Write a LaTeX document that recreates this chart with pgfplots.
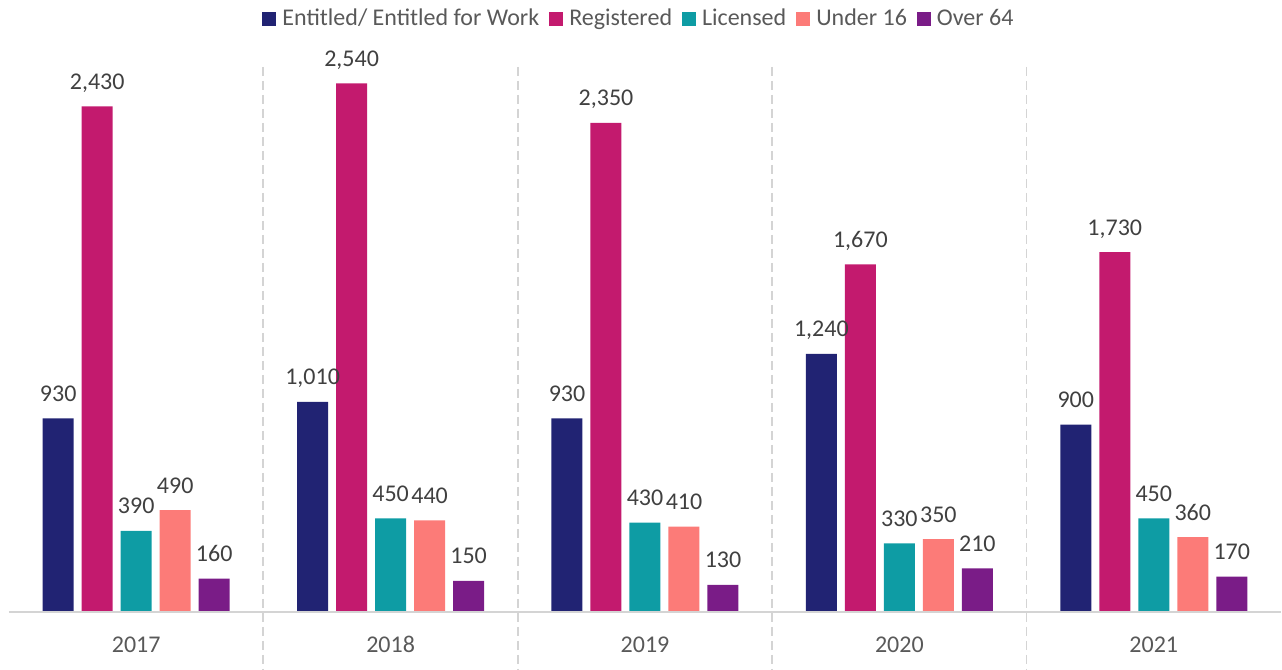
\documentclass[border=0pt]{standalone}
\usepackage{fontspec}
\setmainfont{Carlito}
\usepackage{pgfplots}
\pgfplotsset{compat=1.18}
\definecolor{cNavy}{HTML}{212373}
\definecolor{cMag}{HTML}{C31A6E}
\definecolor{cTeal}{HTML}{0E9CA4}
\definecolor{cSalmon}{HTML}{FC7B78}
\definecolor{cPurp}{HTML}{7A1C87}
\definecolor{lblgray}{HTML}{404040}
\definecolor{txtgray}{HTML}{595959}
\definecolor{linegray}{HTML}{D4D4D4}

\begin{document}
\begin{tikzpicture}
\begin{axis}[
  at={(0,0)}, anchor=south west,
  scale only axis, width=636pt, height=272.6pt,
  xmin=-0.5, xmax=4.5, ymin=0, ymax=2620,
  enlargelimits=false, clip=false,
  axis line style={draw=none},
  ytick=\empty,
  xtick={0,1,2,3,4},
  xticklabels={2017,2018,2019,2020,2021},
  major tick length=0pt,
  xticklabel style={anchor=base, yshift=-20pt, font=\fontsize{12}{14}\selectfont, text=txtgray},
  ybar=4pt, bar width=15.5pt,
  /pgf/number format/1000 sep={,},
  /pgf/number format/assume math mode=true,
  nodes near coords,
  nodes near coords style={font=\fontsize{12}{14}\selectfont, text=lblgray, anchor=base, yshift=8.5pt, inner sep=0pt},
  legend columns=5,
  legend style={at={(0.5,1)}, anchor=center, yshift=24pt, xshift=-3.5pt,
    draw=none, fill=none, font=\fontsize{12}{14}\selectfont, text=txtgray,
    nodes={inner sep=0pt},
    /tikz/every odd column/.append style={column sep=3pt},
    /tikz/every even column/.append style={column sep=5pt}},
  legend image code/.code={\fill[#1] (0pt,-3.5pt) rectangle (7pt,3.5pt);},
]
\addplot[fill=cNavy, draw=none] coordinates {(0,930) (1,1010) (2,930) (3,1240) (4,900)};
\addplot[fill=cMag, draw=none] coordinates {(0,2430) (1,2540) (2,2350) (3,1670) (4,1730)};
\addplot[fill=cTeal, draw=none] coordinates {(0,390) (1,450) (2,430) (3,330) (4,450)};
\addplot[fill=cSalmon, draw=none] coordinates {(0,490) (1,440) (2,410) (3,350) (4,360)};
\addplot[fill=cPurp, draw=none] coordinates {(0,160) (1,150) (2,130) (3,210) (4,170)};
\legend{Entitled/ Entitled for Work, Registered, Licensed, Under 16, Over 64}
\draw[linegray, line width=1pt] (axis cs:-0.5,0) -- (axis cs:4.5,0);
\pgfplotsinvokeforeach{0.5,1.5,2.5,3.5}{
  \draw[linegray, line width=0.9pt, dash pattern=on 4.5pt off 2.5pt] (axis cs:#1,2620) -- (axis cs:#1,-280);
}
\end{axis}
\pgfresetboundingbox
\useasboundingbox (-4.5pt,-29pt) rectangle (636.5pt,306pt);
\end{tikzpicture}
\end{document}
